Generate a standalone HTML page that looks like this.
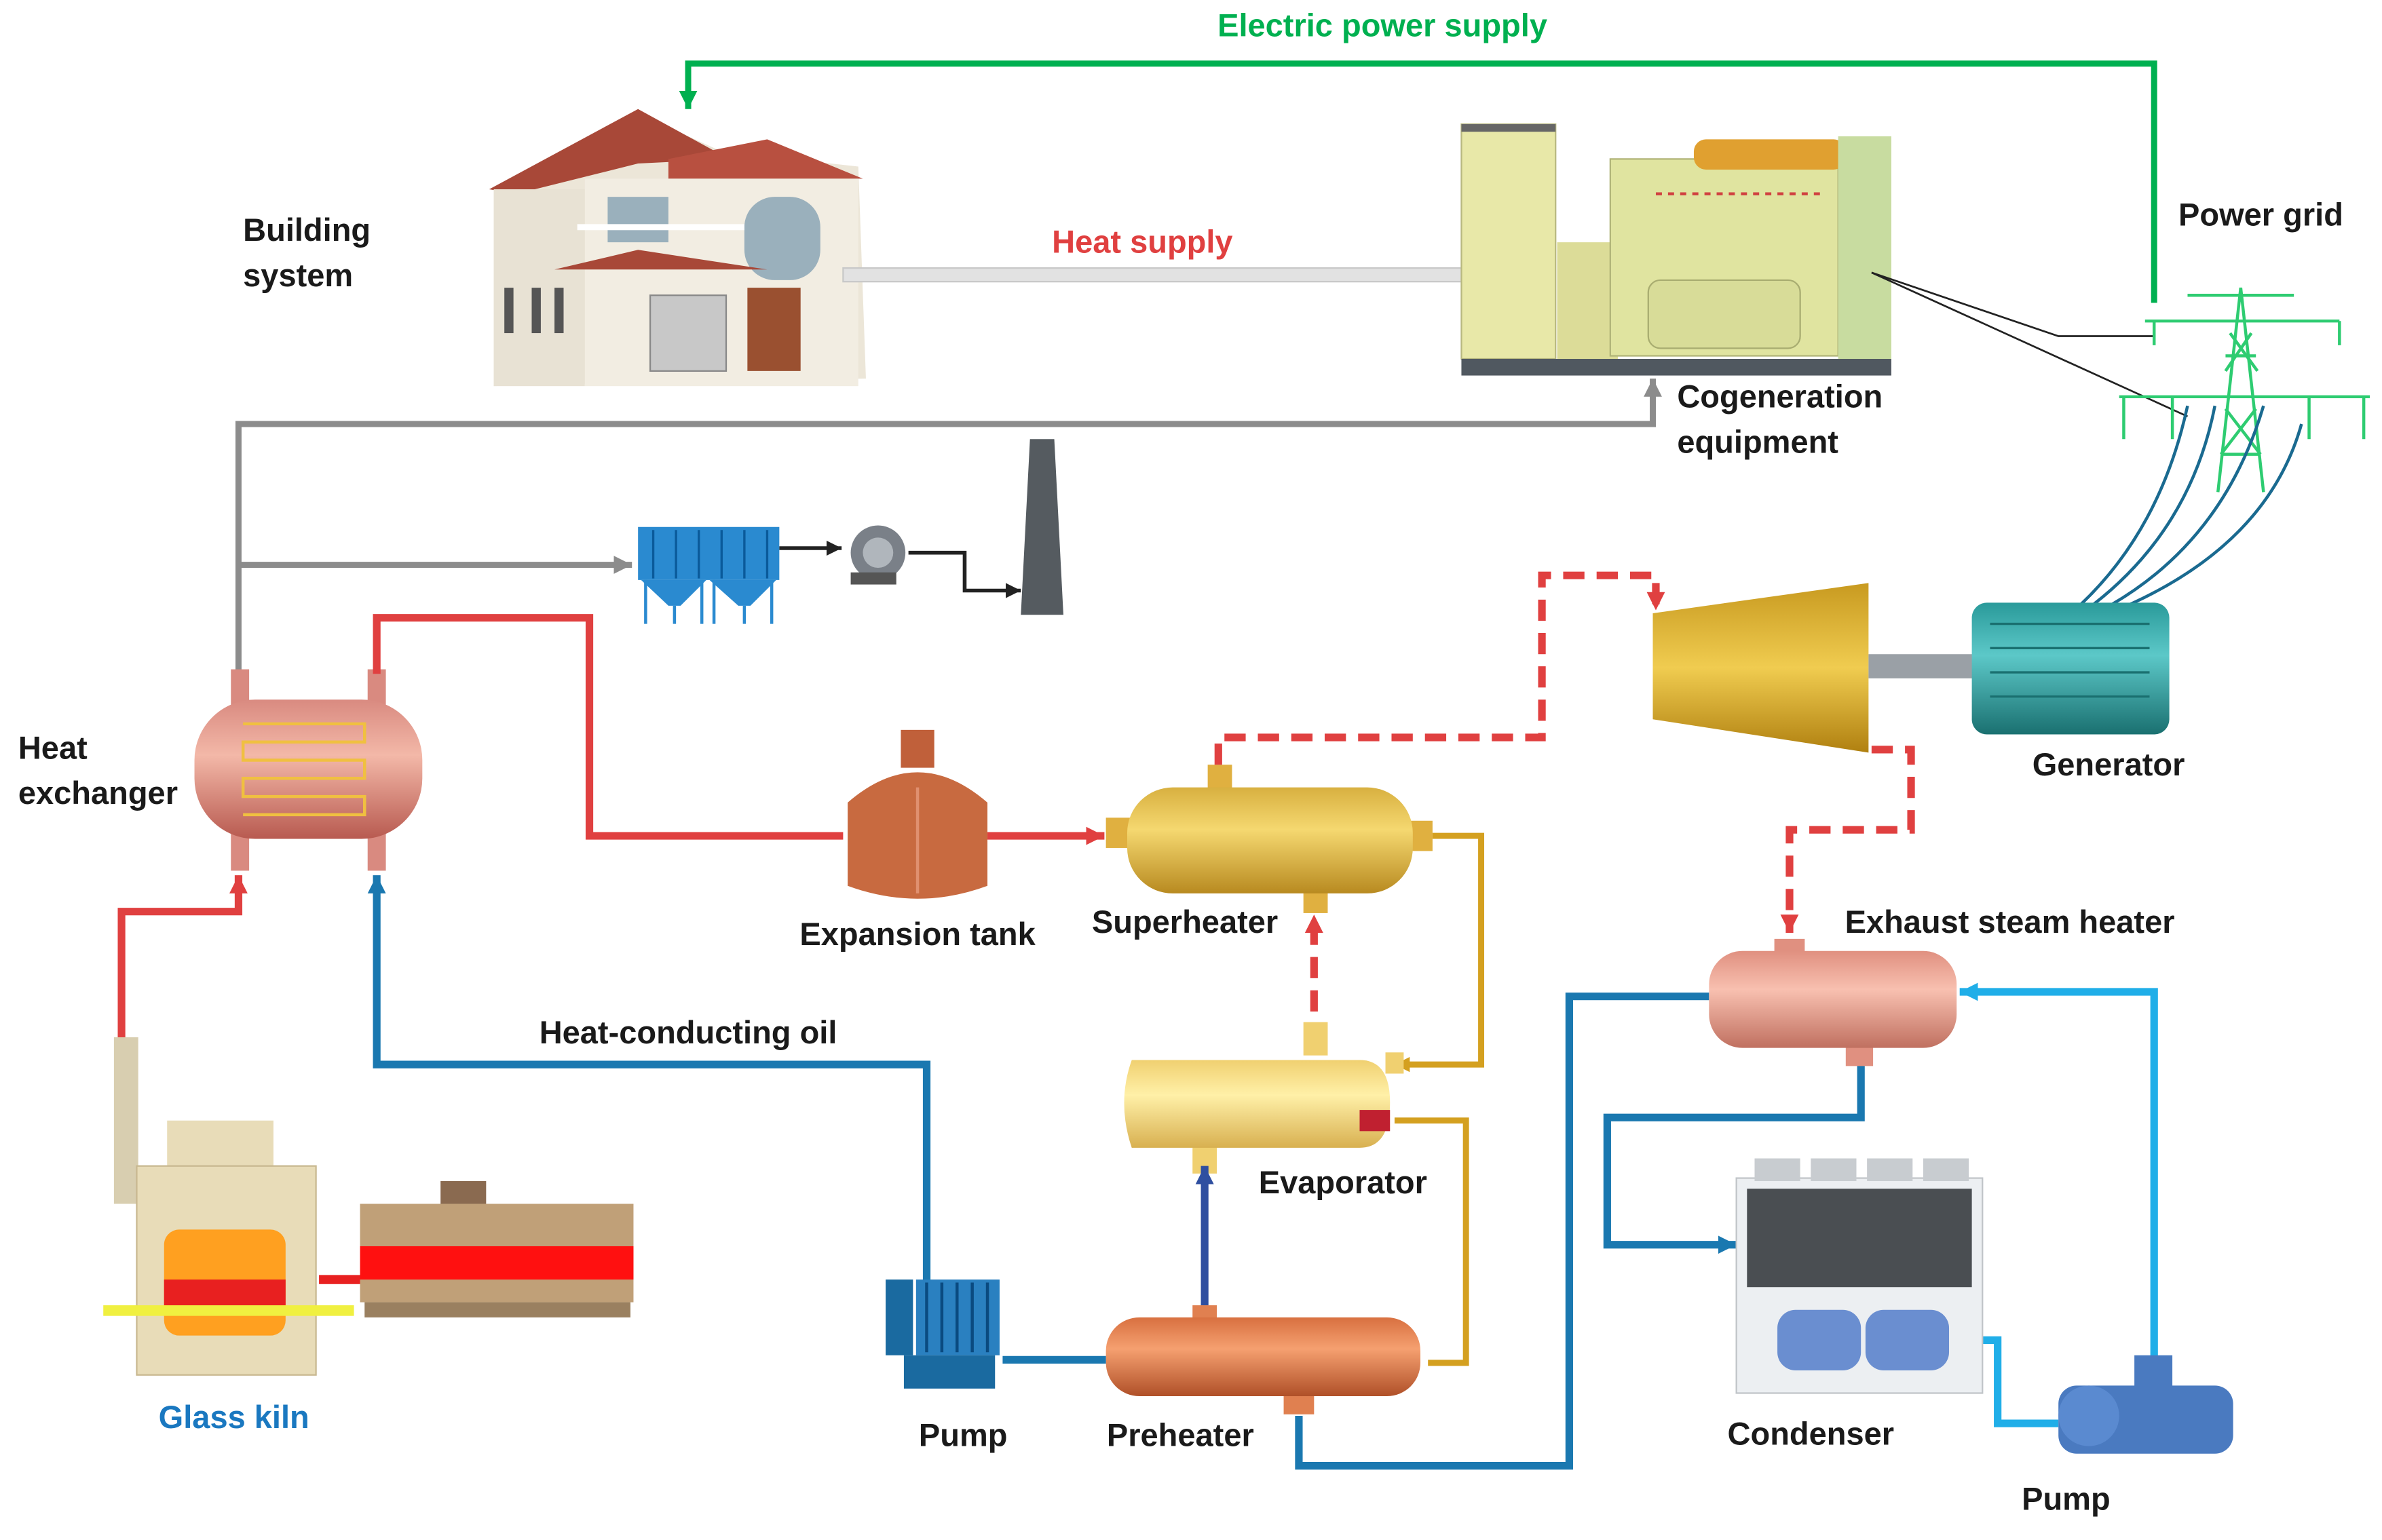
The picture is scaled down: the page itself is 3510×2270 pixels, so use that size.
<!DOCTYPE html>
<html><head><meta charset="utf-8"><style>
html,body{margin:0;padding:0;background:#fff;}
svg{display:block}
text{font-family:"Liberation Sans",sans-serif;font-weight:bold;font-size:21px;fill:#1a1a1a}
</style></head><body>
<svg width="3510" height="2270" viewBox="0 0 1568 1017" preserveAspectRatio="none" xmlns="http://www.w3.org/2000/svg">
<defs>
<marker id="ag" markerWidth="12" markerHeight="12" refX="12" refY="6" orient="auto" markerUnits="userSpaceOnUse"><path d="M0,0L12,6L0,12z" fill="#00b050"/></marker>
<marker id="agr" markerWidth="12" markerHeight="12" refX="12" refY="6" orient="auto" markerUnits="userSpaceOnUse"><path d="M0,0L12,6L0,12z" fill="#8c8c8c"/></marker>
<marker id="ak" markerWidth="10" markerHeight="10" refX="10" refY="5" orient="auto" markerUnits="userSpaceOnUse"><path d="M0,0L10,5L0,10z" fill="#222"/></marker>
<marker id="ar" markerWidth="12" markerHeight="12" refX="12" refY="6" orient="auto" markerUnits="userSpaceOnUse"><path d="M0,0L12,6L0,12z" fill="#e04040"/></marker>
<marker id="ab" markerWidth="12" markerHeight="12" refX="12" refY="6" orient="auto" markerUnits="userSpaceOnUse"><path d="M0,0L12,6L0,12z" fill="#1a78b0"/></marker>
<marker id="alb" markerWidth="12" markerHeight="12" refX="12" refY="6" orient="auto" markerUnits="userSpaceOnUse"><path d="M0,0L12,6L0,12z" fill="#20aee8"/></marker>
<marker id="ao" markerWidth="10" markerHeight="10" refX="10" refY="5" orient="auto" markerUnits="userSpaceOnUse"><path d="M0,0L10,5L0,10z" fill="#d4a020"/></marker>
<marker id="adb" markerWidth="12" markerHeight="12" refX="12" refY="6" orient="auto" markerUnits="userSpaceOnUse"><path d="M0,0L12,6L0,12z" fill="#2f4fa0"/></marker>
<linearGradient id="cu" x1="0" y1="0" x2="0" y2="1"><stop offset="0" stop-color="#d98a80"/><stop offset=".4" stop-color="#f3b8a8"/><stop offset="1" stop-color="#b85a50"/></linearGradient>
<linearGradient id="gd" x1="0" y1="0" x2="0" y2="1"><stop offset="0" stop-color="#d8b040"/><stop offset=".4" stop-color="#f5d870"/><stop offset="1" stop-color="#b88a20"/></linearGradient>
<linearGradient id="yl" x1="0" y1="0" x2="0" y2="1"><stop offset="0" stop-color="#f0d070"/><stop offset=".4" stop-color="#fff0a8"/><stop offset="1" stop-color="#d8b050"/></linearGradient>
<linearGradient id="or" x1="0" y1="0" x2="0" y2="1"><stop offset="0" stop-color="#d87040"/><stop offset=".4" stop-color="#f5a070"/><stop offset="1" stop-color="#b05028"/></linearGradient>
<linearGradient id="ex" x1="0" y1="0" x2="0" y2="1"><stop offset="0" stop-color="#e09080"/><stop offset=".4" stop-color="#f8c0b0"/><stop offset="1" stop-color="#c07060"/></linearGradient>
<linearGradient id="tl" x1="0" y1="0" x2="0" y2="1"><stop offset="0" stop-color="#2a9a9a"/><stop offset=".4" stop-color="#5cc8c8"/><stop offset="1" stop-color="#1a7070"/></linearGradient>
<linearGradient id="tb" x1="0" y1="0" x2="0" y2="1"><stop offset="0" stop-color="#c89a20"/><stop offset=".5" stop-color="#f0cc50"/><stop offset="1" stop-color="#b08010"/></linearGradient>
</defs>

<polyline points="1418,200 1418,42 453,42 453,72" fill="none" stroke="#00b050" stroke-width="4" marker-end="url(#ag)"/>
<text x="910" y="24" text-anchor="middle" style="fill:#00b050">Electric power supply</text>

<g>
<polygon points="330,125 420,75 475,100 565,110 570,250 325,255" fill="#ece6d8"/>
<polygon points="322,125 420,72 480,105 420,108 340,128" fill="#a84838"/>
<polygon points="440,105 505,92 568,118 440,118" fill="#b85040"/>
<rect x="325" y="125" width="60" height="130" fill="#e8e2d4"/>
<rect x="385" y="118" width="180" height="137" fill="#f2ede2"/>
<rect x="400" y="130" width="40" height="30" fill="#9ab0bc"/>
<rect x="490" y="130" width="50" height="55" rx="20" fill="#9ab0bc"/>
<polygon points="365,178 420,165 505,178" fill="#a84838"/>
<rect x="428" y="195" width="50" height="50" fill="#c8c8c8" stroke="#888"/>
<rect x="492" y="190" width="35" height="55" fill="#9a5030"/>
<rect x="350" y="190" width="6" height="30" fill="#555"/><rect x="365" y="190" width="6" height="30" fill="#555"/>
<rect x="332" y="190" width="6" height="30" fill="#555"/>
<rect x="380" y="148" width="110" height="4" fill="#fff"/>
</g>
<text x="160" y="159">Building</text><text x="160" y="189">system</text>

<rect x="555" y="177" width="420" height="9" fill="#e2e2e2" stroke="#c8c8c8"/>
<text x="752" y="167" text-anchor="middle" style="fill:#e04040">Heat supply</text>

<g>
<rect x="962" y="82" width="62" height="155" fill="#e8e8a8" stroke="#b8b880"/>
<rect x="962" y="82" width="62" height="5" fill="#666"/>
<rect x="1025" y="160" width="40" height="78" fill="#dcdc98"/>
<rect x="1060" y="105" width="150" height="130" fill="#e0e4a0" stroke="#b0b478"/>
<rect x="1085" y="185" width="100" height="45" rx="8" fill="#d8dc98" stroke="#a8ac70"/>
<rect x="1115" y="92" width="100" height="20" rx="8" fill="#e0a030"/>
<rect x="1210" y="90" width="35" height="148" fill="#c8dca0"/>
<line x1="1090" y1="128" x2="1200" y2="128" stroke="#d04040" stroke-width="2" stroke-dasharray="4,4"/>
<rect x="962" y="237" width="283" height="11" fill="#505860"/>
</g>
<text x="1104" y="269">Cogeneration</text><text x="1104" y="299">equipment</text>
<text x="1434" y="149">Power grid</text>

<polyline points="1232,180 1355,222 1418,222" fill="none" stroke="#222" stroke-width="1.2"/>
<polyline points="1232,180 1440,275" fill="none" stroke="#222" stroke-width="1.2"/>

<g stroke="#2ecc71" stroke-width="2" fill="none">
<polyline points="1460,325 1475,190 1490,325"/>
<line x1="1440" y1="195" x2="1510" y2="195"/>
<line x1="1412" y1="212" x2="1540" y2="212"/>
<line x1="1395" y1="262" x2="1560" y2="262"/>
<line x1="1465" y1="235" x2="1485" y2="235"/>
<line x1="1462" y1="300" x2="1488" y2="300"/>
<line x1="1468" y1="220" x2="1486" y2="245"/><line x1="1482" y1="220" x2="1465" y2="245"/>
<line x1="1465" y1="270" x2="1488" y2="300"/><line x1="1485" y1="270" x2="1462" y2="300"/>
<line x1="1418" y1="212" x2="1418" y2="228"/><line x1="1540" y1="212" x2="1540" y2="228"/>
<line x1="1398" y1="262" x2="1398" y2="290"/><line x1="1430" y1="262" x2="1430" y2="290"/>
<line x1="1520" y1="262" x2="1520" y2="290"/><line x1="1556" y1="262" x2="1556" y2="290"/>
</g>
<g stroke="#1a6a90" stroke-width="2" fill="none">
<path d="M1355,412 Q1420,360 1440,268"/>
<path d="M1360,412 Q1440,360 1458,268"/>
<path d="M1365,412 Q1460,370 1490,268"/>
<path d="M1370,412 Q1490,370 1515,280"/>
</g>

<polyline points="157,445 157,280 1088,280 1088,250" fill="none" stroke="#8c8c8c" stroke-width="4" marker-end="url(#agr)"/>
<polyline points="157,373 416,373" fill="none" stroke="#8c8c8c" stroke-width="4" marker-end="url(#agr)"/>
<polyline points="513,362 554,362" fill="none" stroke="#222" stroke-width="2.5" marker-end="url(#ak)"/>
<polyline points="598,365 635,365 635,390 672,390" fill="none" stroke="#222" stroke-width="2.5" marker-end="url(#ak)"/>
<g>
<rect x="420" y="348" width="93" height="35" fill="#2a8ad0"/>
<g stroke="#0a5a9a" stroke-width="1.5"><line x1="430" y1="350" x2="430" y2="382"/><line x1="445" y1="350" x2="445" y2="382"/><line x1="460" y1="350" x2="460" y2="382"/><line x1="475" y1="350" x2="475" y2="382"/><line x1="490" y1="350" x2="490" y2="382"/><line x1="505" y1="350" x2="505" y2="382"/></g>
<polygon points="422,383 465,383 448,400 440,400" fill="#2a8ad0"/>
<polygon points="467,383 511,383 494,400 486,400" fill="#2a8ad0"/>
<g stroke="#2a8ad0" stroke-width="2"><line x1="425" y1="383" x2="425" y2="412"/><line x1="462" y1="383" x2="462" y2="412"/><line x1="470" y1="383" x2="470" y2="412"/><line x1="508" y1="383" x2="508" y2="412"/><line x1="444" y1="400" x2="444" y2="412"/><line x1="490" y1="400" x2="490" y2="412"/></g>
</g>
<circle cx="578" cy="365" r="18" fill="#7a8088"/><circle cx="578" cy="365" r="10" fill="#b0b6bc"/>
<rect x="560" y="378" width="30" height="8" fill="#555"/>
<polygon points="678,290 694,290 700,406 672,406" fill="#555b60"/>

<g>
<rect x="152" y="442" width="12" height="25" fill="#d98a80"/><rect x="242" y="442" width="12" height="25" fill="#d98a80"/>
<rect x="152" y="550" width="12" height="25" fill="#d98a80"/><rect x="242" y="550" width="12" height="25" fill="#d98a80"/>
<rect x="128" y="462" width="150" height="92" rx="40" fill="url(#cu)"/>
<path d="M160,478 H240 V490 H160 V502 H240 V514 H160 V526 H240 V538 H160" fill="none" stroke="#f0c040" stroke-width="2"/>
</g>
<text x="12" y="501">Heat</text><text x="12" y="531">exchanger</text>

<polyline points="248,445 248,408 388,408 388,552 555,552" fill="none" stroke="#e04040" stroke-width="5"/>
<polyline points="650,552 727,552" fill="none" stroke="#e04040" stroke-width="5" marker-end="url(#ar)"/>
<polyline points="80,688 80,602 157,602 157,578" fill="none" stroke="#e04040" stroke-width="5" marker-end="url(#ar)"/>
<g>
<rect x="593" y="482" width="22" height="25" fill="#c0603a"/>
<path d="M558,530 Q604,490 650,530 V585 Q604,602 558,585 Z" fill="#c86a40"/>
<line x1="604" y1="520" x2="604" y2="590" stroke="#e09070" stroke-width="2"/>
</g>
<text x="604" y="624" text-anchor="middle">Expansion tank</text>

<g>
<rect x="795" y="505" width="16" height="18" fill="#e0b040"/>
<rect x="858" y="585" width="16" height="18" fill="#e0b040"/>
<rect x="728" y="540" width="18" height="20" fill="#e0b040"/>
<rect x="925" y="542" width="18" height="20" fill="#e0b040"/>
<rect x="742" y="520" width="188" height="70" rx="30" fill="url(#gd)"/>
</g>
<text x="780" y="616" text-anchor="middle">Superheater</text>

<polyline points="802,505 802,487 1015,487 1015,380 1090,380 1090,403" fill="none" stroke="#e04040" stroke-width="5" stroke-dasharray="14,8" marker-end="url(#ar)"/>
<polyline points="1232,495 1258,495 1258,548 1178,548 1178,616" fill="none" stroke="#e04040" stroke-width="5" stroke-dasharray="14,8" marker-end="url(#ar)"/>
<polyline points="865,690 865,604" fill="none" stroke="#e04040" stroke-width="5" stroke-dasharray="14,8" marker-end="url(#ar)"/>

<polygon points="1088,405 1230,385 1230,497 1088,475" fill="url(#tb)"/>
<rect x="1230" y="432" width="70" height="16" fill="#9aa0a6"/>
<rect x="1298" y="398" width="130" height="87" rx="10" fill="url(#tl)"/>
<g stroke="#1a7070" stroke-width="1.5"><line x1="1310" y1="412" x2="1415" y2="412"/><line x1="1310" y1="428" x2="1415" y2="428"/><line x1="1310" y1="444" x2="1415" y2="444"/><line x1="1310" y1="460" x2="1415" y2="460"/></g>
<text x="1388" y="512" text-anchor="middle">Generator</text>

<polyline points="943,552 975,552 975,703 918,703" fill="none" stroke="#d4a020" stroke-width="4" marker-end="url(#ao)"/>
<polyline points="918,740 965,740 965,900 940,900" fill="none" stroke="#d4a020" stroke-width="4"/>

<g>
<rect x="858" y="675" width="16" height="22" fill="#f0d070"/>
<rect x="785" y="755" width="16" height="20" fill="#f0d070"/>
<path d="M745,700 H895 Q915,700 915,728 Q915,758 895,758 H745 Q735,728 745,700Z" fill="url(#yl)"/>
<rect x="895" y="733" width="20" height="14" fill="#c02030"/>
<rect x="912" y="695" width="12" height="14" fill="#f0d070"/>
</g>
<text x="884" y="788" text-anchor="middle">Evaporator</text>
<polyline points="793,862 793,770" fill="none" stroke="#2f4fa0" stroke-width="5" marker-end="url(#adb)"/>

<g>
<rect x="785" y="862" width="16" height="12" fill="#e08050"/>
<rect x="845" y="920" width="20" height="14" fill="#e08050"/>
<rect x="728" y="870" width="207" height="52" rx="22" fill="url(#or)"/>
</g>
<text x="777" y="955" text-anchor="middle">Preheater</text>

<polyline points="610,850 610,703 248,703 248,578" fill="none" stroke="#1a78b0" stroke-width="5" marker-end="url(#ab)"/>
<text x="453" y="689" text-anchor="middle">Heat-conducting oil</text>
<line x1="660" y1="898" x2="728" y2="898" stroke="#1a78b0" stroke-width="5"/>
<g>
<rect x="583" y="845" width="18" height="50" fill="#1a6aa0"/>
<rect x="603" y="845" width="55" height="50" fill="#2a80c0"/>
<g stroke="#0a4a80" stroke-width="2"><line x1="610" y1="847" x2="610" y2="893"/><line x1="620" y1="847" x2="620" y2="893"/><line x1="630" y1="847" x2="630" y2="893"/><line x1="640" y1="847" x2="640" y2="893"/><line x1="650" y1="847" x2="650" y2="893"/></g>
<rect x="595" y="895" width="60" height="22" fill="#1a6aa0"/>
</g>
<text x="634" y="955" text-anchor="middle">Pump</text>

<polyline points="855,935 855,968 1033,968 1033,658 1125,658" fill="none" stroke="#1a78b0" stroke-width="5"/>
<polyline points="1225,700 1225,738 1058,738 1058,822 1143,822" fill="none" stroke="#1a78b0" stroke-width="5" marker-end="url(#ab)"/>
<polyline points="1285,885 1315,885 1315,940 1355,940" fill="none" stroke="#20aee8" stroke-width="5"/>
<polyline points="1418,900 1418,655 1290,655" fill="none" stroke="#20aee8" stroke-width="5" marker-end="url(#alb)"/>

<g>
<rect x="1168" y="620" width="20" height="12" fill="#e09080"/>
<rect x="1215" y="690" width="18" height="14" fill="#e09080"/>
<rect x="1125" y="628" width="163" height="64" rx="22" fill="url(#ex)"/>
</g>
<text x="1323" y="616" text-anchor="middle">Exhaust steam heater</text>

<g>
<rect x="1143" y="778" width="162" height="142" fill="#eceff2" stroke="#c0c4c8"/>
<rect x="1150" y="785" width="148" height="65" fill="#4a4e52"/>
<g fill="#c8ccd0"><rect x="1155" y="765" width="30" height="15"/><rect x="1192" y="765" width="30" height="15"/><rect x="1229" y="765" width="30" height="15"/><rect x="1266" y="765" width="30" height="15"/></g>
<rect x="1170" y="865" width="55" height="40" rx="12" fill="#6a8ed0"/>
<rect x="1228" y="865" width="55" height="40" rx="12" fill="#6a8ed0"/>
</g>
<text x="1192" y="954" text-anchor="middle">Condenser</text>
<g>
<rect x="1355" y="915" width="115" height="45" rx="12" fill="#4a7ac0"/>
<rect x="1405" y="895" width="25" height="25" fill="#4a7ac0"/>
<circle cx="1375" cy="935" r="20" fill="#5a8ad0"/>
</g>
<text x="1360" y="997" text-anchor="middle">Pump</text>

<g>
<rect x="75" y="685" width="16" height="110" fill="#d8ceb0"/>
<rect x="110" y="740" width="70" height="30" fill="#e8dcb8"/>
<rect x="90" y="770" width="118" height="138" fill="#e8dcb8" stroke="#c8b890"/>
<rect x="108" y="812" width="80" height="70" rx="10" fill="#ffa020"/>
<rect x="108" y="845" width="80" height="20" fill="#e82020"/>
<rect x="68" y="862" width="165" height="7" fill="#f0f040"/>
<rect x="210" y="842" width="30" height="6" fill="#e82020"/>
<rect x="237" y="795" width="180" height="65" fill="#c0a078"/>
<rect x="237" y="823" width="180" height="22" fill="#ff1010"/>
<rect x="290" y="780" width="30" height="15" fill="#8a6a50"/>
<rect x="240" y="860" width="175" height="10" fill="#9a8060"/>
</g>
<text x="154" y="943" text-anchor="middle" style="fill:#1a78c0">Glass kiln</text>
</svg>
</body></html>
